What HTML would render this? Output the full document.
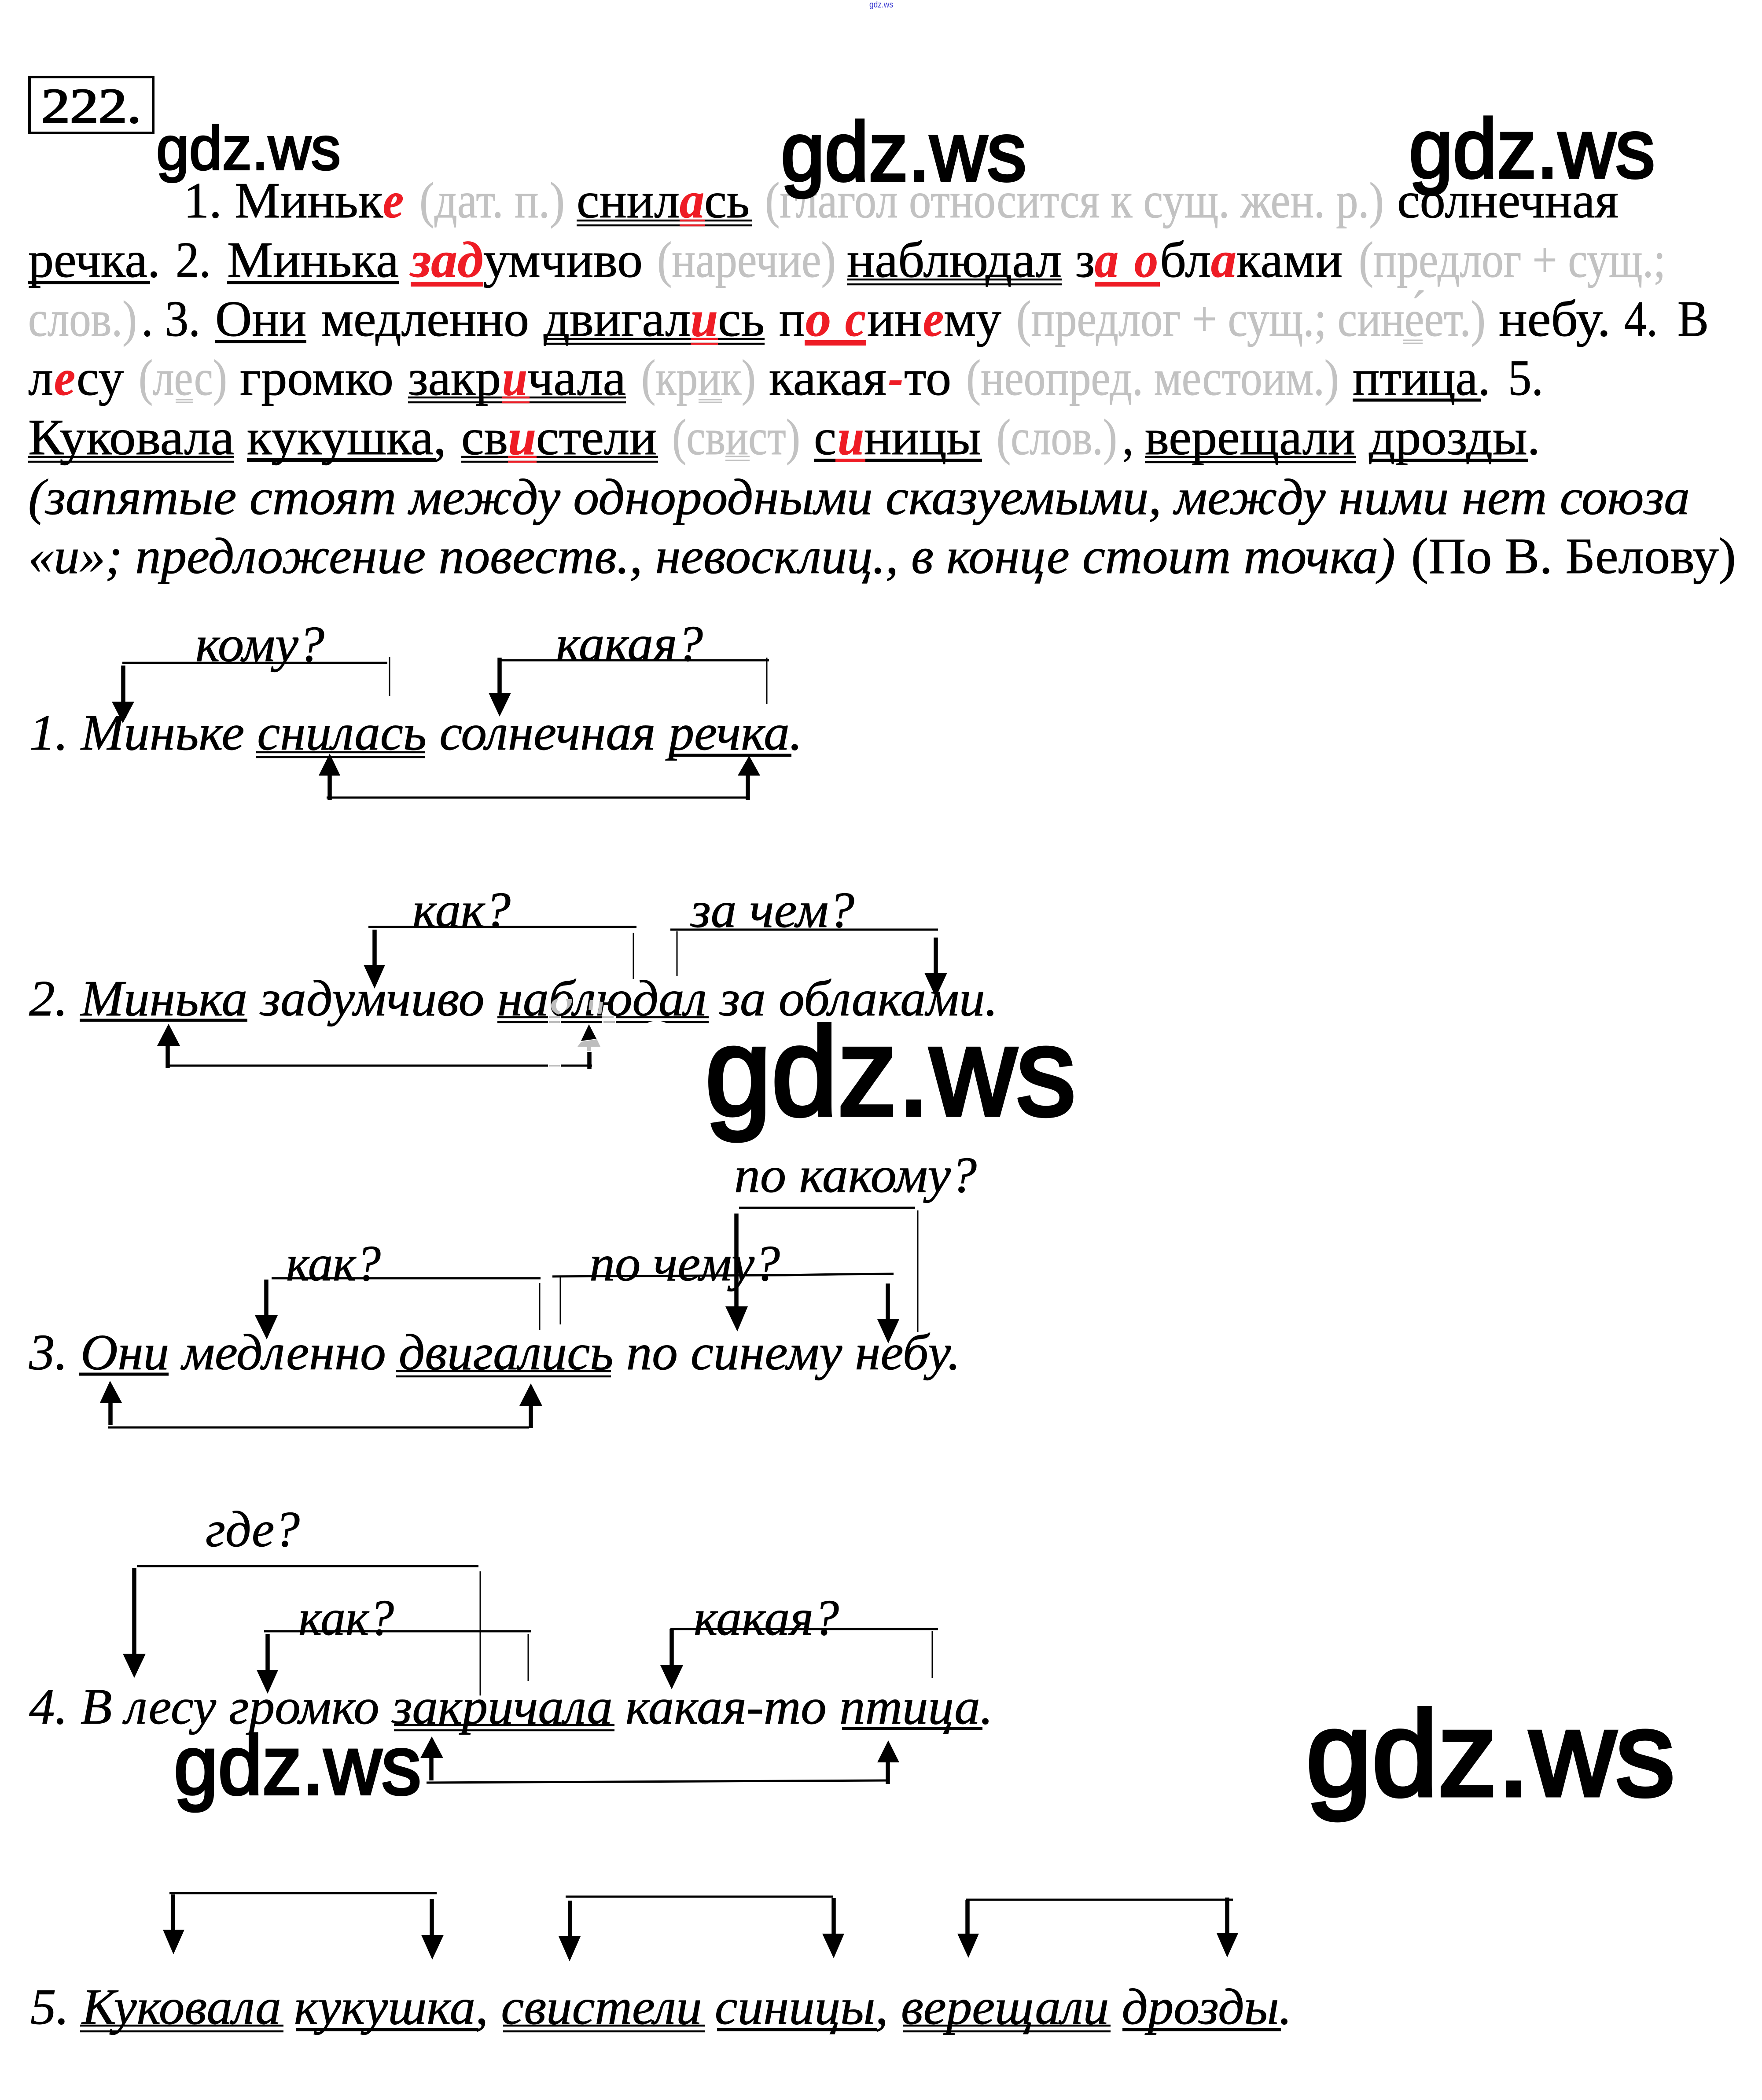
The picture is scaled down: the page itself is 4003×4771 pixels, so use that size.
<!DOCTYPE html>
<html lang="ru"><head><meta charset="utf-8"><title>222</title>
<style>
html,body{margin:0;padding:0;background:#fff}
svg{display:block}
text{font-family:"Liberation Serif",serif;font-size:116px;fill:#000;stroke:#000;stroke-width:1;white-space:pre}
.i{font-style:italic}
.g{fill:#c2c2c2;stroke:#c2c2c2}
.r{fill:#ee1c25;stroke:#ee1c25;font-style:italic;font-weight:bold}
.w{font-family:"Liberation Sans",sans-serif;stroke:#000}
.l{stroke:#000;stroke-width:5;fill:none}
.s{stroke:#000;stroke-width:9.5;fill:none}
.t{stroke:#000;stroke-width:3;fill:none}
.u{stroke:#000;stroke-width:7;fill:none}
.d{stroke:#000;stroke-width:4.5;fill:none}
.dr{stroke:#ee1c25;stroke-width:4.5;fill:none}
.gu{stroke:#c2c2c2;stroke-width:3;fill:none}
.ru{fill:#ee1c25}
</style></head><body>
<svg xmlns="http://www.w3.org/2000/svg" width="4003" height="4771" viewBox="0 0 4003 4771">
<rect width="4003" height="4771" fill="#fff"/>
<text x="1975" y="17" textLength="54" lengthAdjust="spacingAndGlyphs" style="font-family:'Liberation Sans',sans-serif;font-size:20px;fill:#3a3ad0;stroke:none">gdz.ws</text>
<rect x="67" y="175" width="281" height="127" fill="none" stroke="#000" stroke-width="6"/>
<text x="94" y="278" textLength="227" lengthAdjust="spacingAndGlyphs" style="font-size:112px;stroke-width:3">222.</text>

<!-- line 1 -->
<text x="417" y="494" textLength="453" lengthAdjust="spacingAndGlyphs">1. Миньк</text>
<text x="870" y="494" textLength="47" lengthAdjust="spacingAndGlyphs" class="r">е</text>
<text x="953" y="494" textLength="330" lengthAdjust="spacingAndGlyphs" class="g">(дат. п.)</text>
<text x="1310" y="494" textLength="234" lengthAdjust="spacingAndGlyphs">снил</text>
<text x="1544" y="494" textLength="56" lengthAdjust="spacingAndGlyphs" class="r">а</text>
<text x="1600" y="494" textLength="103" lengthAdjust="spacingAndGlyphs">сь</text>
<text x="1738" y="494" textLength="1406" lengthAdjust="spacingAndGlyphs" class="g">(глагол относится к сущ. жен. р.)</text>
<text x="3174" y="494" textLength="503" lengthAdjust="spacingAndGlyphs">солнечная</text>
<path class="d" d="M1310 501H1708M1310 512H1708"/><path class="dr" d="M1544 501H1602M1544 512H1602"/>

<!-- line 2 -->
<text x="64" y="629" textLength="300" lengthAdjust="spacingAndGlyphs">речка.</text>
<text x="399" y="629" textLength="80" lengthAdjust="spacingAndGlyphs">2.</text>
<text x="516" y="629" textLength="390" lengthAdjust="spacingAndGlyphs">Минька</text>
<text x="933" y="629" textLength="165" lengthAdjust="spacingAndGlyphs" class="r">зад</text>
<text x="1098" y="629" textLength="362" lengthAdjust="spacingAndGlyphs">умчиво</text>
<text x="1493" y="629" textLength="406" lengthAdjust="spacingAndGlyphs" class="g">(наречие)</text>
<text x="1924" y="629" textLength="488" lengthAdjust="spacingAndGlyphs">наблюдал</text>
<text x="2443" y="629" textLength="44" lengthAdjust="spacingAndGlyphs">з</text>
<text x="2487" y="629" textLength="54" lengthAdjust="spacingAndGlyphs" class="r">а</text>
<text x="2577" y="629" textLength="54" lengthAdjust="spacingAndGlyphs" class="r">о</text>
<text x="2635" y="629" textLength="116" lengthAdjust="spacingAndGlyphs">бл</text>
<text x="2751" y="629" textLength="58" lengthAdjust="spacingAndGlyphs" class="r">а</text>
<text x="2809" y="629" textLength="241" lengthAdjust="spacingAndGlyphs">ками</text>
<text x="3087" y="629" textLength="697" lengthAdjust="spacingAndGlyphs" class="g">(предлог + сущ.;</text>
<path class="u" d="M64 642H341M516 642H906"/>
<rect class="ru" x="933" y="640" width="165" height="11"/>
<path class="d" d="M1924 635H2412M1924 646H2412"/>
<rect class="ru" x="2487" y="640" width="148" height="11"/>

<!-- line 3 -->
<text x="64" y="763" textLength="247" lengthAdjust="spacingAndGlyphs" class="g">слов.)</text>
<text x="321" y="763" textLength="134" lengthAdjust="spacingAndGlyphs">. 3.</text>
<text x="489" y="763" textLength="207" lengthAdjust="spacingAndGlyphs">Они</text>
<text x="730" y="763" textLength="472" lengthAdjust="spacingAndGlyphs">медленно</text>
<text x="1235" y="763" textLength="334" lengthAdjust="spacingAndGlyphs">двигал</text>
<text x="1569" y="763" textLength="62" lengthAdjust="spacingAndGlyphs" class="r">и</text>
<text x="1631" y="763" textLength="106" lengthAdjust="spacingAndGlyphs">сь</text>
<text x="1770" y="763" textLength="58" lengthAdjust="spacingAndGlyphs">п</text>
<text x="1830" y="763" textLength="58" lengthAdjust="spacingAndGlyphs" class="r">о</text>
<text x="1920" y="763" textLength="47" lengthAdjust="spacingAndGlyphs" class="r">с</text>
<text x="1970" y="763" textLength="124" lengthAdjust="spacingAndGlyphs">ин</text>
<text x="2097" y="763" textLength="47" lengthAdjust="spacingAndGlyphs" class="r">е</text>
<text x="2144" y="763" textLength="131" lengthAdjust="spacingAndGlyphs">му</text>
<text x="2309" y="763" textLength="1066" lengthAdjust="spacingAndGlyphs" class="g">(предлог + сущ.; сине́ет.)</text>
<text x="3405" y="763" textLength="254" lengthAdjust="spacingAndGlyphs">небу.</text>
<text x="3690" y="763" textLength="76" lengthAdjust="spacingAndGlyphs">4.</text>
<text x="3811" y="763" textLength="71" lengthAdjust="spacingAndGlyphs">В</text>
<path class="u" d="M489 776H696"/>
<path class="d" d="M1235 770H1737M1235 781H1737"/><path class="dr" d="M1569 770H1631M1569 781H1631"/>
<rect class="ru" x="1828" y="773" width="140" height="12"/>
<path class="gu" d="M3187 773H3232M3187 780H3232"/>

<!-- line 4 -->
<text x="64" y="897" textLength="57" lengthAdjust="spacingAndGlyphs">л</text>
<text x="123" y="897" textLength="48" lengthAdjust="spacingAndGlyphs" class="r">е</text>
<text x="174" y="897" textLength="107" lengthAdjust="spacingAndGlyphs">су</text>
<text x="315" y="897" textLength="201" lengthAdjust="spacingAndGlyphs" class="g">(лес)</text>
<text x="545" y="897" textLength="349" lengthAdjust="spacingAndGlyphs">громко</text>
<text x="927" y="897" textLength="211" lengthAdjust="spacingAndGlyphs">закр</text>
<text x="1141" y="897" textLength="57" lengthAdjust="spacingAndGlyphs" class="r">и</text>
<text x="1198" y="897" textLength="224" lengthAdjust="spacingAndGlyphs">чала</text>
<text x="1457" y="897" textLength="260" lengthAdjust="spacingAndGlyphs" class="g">(крик)</text>
<text x="1747" y="897" textLength="267" lengthAdjust="spacingAndGlyphs">какая</text>
<text x="2018" y="897" textLength="34" lengthAdjust="spacingAndGlyphs" class="r">-</text>
<text x="2054" y="897" textLength="107" lengthAdjust="spacingAndGlyphs">то</text>
<text x="2195" y="897" textLength="847" lengthAdjust="spacingAndGlyphs" class="g">(неопред. местоим.)</text>
<text x="3073" y="897" textLength="313" lengthAdjust="spacingAndGlyphs">птица.</text>
<text x="3426" y="897" textLength="80" lengthAdjust="spacingAndGlyphs">5.</text>
<path class="d" d="M927 903H1422M927 914H1422"/><path class="dr" d="M1140 903H1203M1140 914H1203"/>
<path class="gu" d="M399 908H439M399 914H439M1587 908H1640M1587 914H1640"/>
<path class="u" d="M3073 909H3364"/>

<!-- line 5 -->
<text x="64" y="1032" textLength="468" lengthAdjust="spacingAndGlyphs">Куковала</text>
<text x="561" y="1032" textLength="453" lengthAdjust="spacingAndGlyphs">кукушка,</text>
<text x="1048" y="1032" textLength="106" lengthAdjust="spacingAndGlyphs">св</text>
<text x="1154" y="1032" textLength="64" lengthAdjust="spacingAndGlyphs" class="r">и</text>
<text x="1218" y="1032" textLength="274" lengthAdjust="spacingAndGlyphs">стели</text>
<text x="1527" y="1032" textLength="291" lengthAdjust="spacingAndGlyphs" class="g">(свист)</text>
<text x="1849" y="1032" textLength="51" lengthAdjust="spacingAndGlyphs">с</text>
<text x="1903" y="1032" textLength="60" lengthAdjust="spacingAndGlyphs" class="r">и</text>
<text x="1963" y="1032" textLength="266" lengthAdjust="spacingAndGlyphs">ницы</text>
<text x="2264" y="1032" textLength="274" lengthAdjust="spacingAndGlyphs" class="g">(слов.)</text>
<text x="2550" y="1032" textLength="25" lengthAdjust="spacingAndGlyphs">,</text>
<text x="2601" y="1032" textLength="478" lengthAdjust="spacingAndGlyphs">верещали</text>
<text x="3110" y="1032" textLength="389" lengthAdjust="spacingAndGlyphs">дрозды.</text>
<path class="d" d="M64 1038H532M64 1049H532M1048 1038H1495M1048 1049H1495M2601 1038H3081M2601 1050H3081"/>
<path class="dr" d="M1154 1038H1219M1154 1049H1219"/>
<path class="u" d="M561 1045H990M1849 1046H2231M3110 1046H3472" style="stroke-width:8"/>
<rect class="ru" x="1898" y="1042" width="68" height="8"/>
<path class="gu" d="M1648 1037H1703M1648 1046H1703"/>

<!-- italics -->
<text x="64" y="1168" textLength="3775" lengthAdjust="spacingAndGlyphs" class="i">(запятые стоят между однородными сказуемыми, между ними нет союза</text>
<text x="64" y="1302" textLength="3106" lengthAdjust="spacingAndGlyphs" class="i">«и»; предложение повеств., невосклиц., в конце стоит точка)</text>
<text x="3206" y="1302" textLength="738" lengthAdjust="spacingAndGlyphs">(По В. Белову)</text>

<!-- watermarks -->
<text x="355" y="385" textLength="419" lengthAdjust="spacingAndGlyphs" class="w" style="font-size:140px;stroke-width:4">gdz.ws</text>
<text x="1774" y="410" textLength="558" lengthAdjust="spacingAndGlyphs" class="w" style="font-size:190px;stroke-width:6">gdz.ws</text>
<text x="3201" y="403" textLength="559" lengthAdjust="spacingAndGlyphs" class="w" style="font-size:190px;stroke-width:6">gdz.ws</text>

<!-- diagram 1 -->
<text x="444" y="1502" textLength="293" lengthAdjust="spacingAndGlyphs" class="i">кому?</text>
<text x="1263" y="1501" textLength="334" lengthAdjust="spacingAndGlyphs" class="i">какая?</text>
<path class="l" d="M278 1506H880M1135 1500H1747M742 1812H1696"/>
<path class="s" d="M280 1512V1600M1135 1494V1580M749 1817V1760M1699 1818V1760"/>
<path class="t" d="M885 1492V1581M1742 1494V1600"/>
<path d="M254 1594H305L279 1643ZM1110 1574H1161L1135 1628ZM724 1762H773L749 1712ZM1676 1762H1727L1702 1717Z"/>
<text x="67" y="1703" textLength="1756" lengthAdjust="spacingAndGlyphs" class="i">1. Миньке снилась солнечная речка.</text>
<path class="d" d="M582 1709H966M582 1720H966"/><path class="u" d="M1524 1716H1798"/>

<!-- diagram 2 -->
<text x="937" y="2106" textLength="223" lengthAdjust="spacingAndGlyphs" class="i">как?</text>
<text x="1569" y="2106" textLength="372" lengthAdjust="spacingAndGlyphs" class="i">за чем?</text>
<path class="l" d="M837 2106H1446M1523 2112H2131M381 2421H1345"/>
<path class="s" d="M851 2112V2195M2126 2130V2215M381 2427V2375"/>
<path class="t" d="M1439 2119V2224M1538 2116V2218"/>
<path d="M826 2192H875L851 2246ZM2100 2210H2152L2126 2266ZM357 2376H409L383 2326Z"/>
<text x="66" y="2307" textLength="2201" lengthAdjust="spacingAndGlyphs" class="i">2. Минька задумчиво наблюдал за облаками.</text>
<path class="u" d="M181 2318H562"/><path class="d" d="M1130 2311H1610M1130 2322H1610"/>
<!-- ghost artefacts -->
<path d="M1245 2308H1275V2326H1245ZM1245 2417H1275V2426H1245ZM1367 2308H1399V2326H1367Z" fill="#fff"/>
<path d="M1247 2309H1272V2313H1247ZM1247 2320H1272V2324H1247ZM1247 2419H1272V2423H1247ZM1368 2309H1394V2313H1368ZM1371 2320H1397V2324H1371Z" fill="#bdbdbd"/>
<path d="M1263 2270C1248 2275 1246 2298 1270 2305L1272 2298C1260 2293 1262 2280 1268 2270ZM1286 2270H1300C1300 2282 1292 2292 1283 2296C1290 2288 1289 2278 1286 2270ZM1340 2272L1348 2272L1346 2295L1337 2295ZM1362 2275L1370 2277L1366 2304L1358 2303Z" fill="#bdbdbd"/>
<path d="M1467 2326Q1492 2312 1517 2326Z" fill="#fff"/>
<path d="M1338 2327L1320 2365L1355 2360Z"/>
<path d="M1320 2367L1356 2361L1364 2378L1312 2378ZM1334 2378H1343V2387H1334Z" fill="#bdbdbd"/>
<path class="s" d="M1339 2390V2428"/>
<text x="1602" y="2533" textLength="842" lengthAdjust="spacingAndGlyphs" class="w" style="font-size:285px;stroke-width:9">gdz.ws</text>

<!-- diagram 3 -->
<text x="1668" y="2708" textLength="551" lengthAdjust="spacingAndGlyphs" class="i">по какому?</text>
<text x="650" y="2909" textLength="215" lengthAdjust="spacingAndGlyphs" class="i">как?</text>
<text x="1339" y="2909" textLength="433" lengthAdjust="spacingAndGlyphs" class="i">по чему?</text>
<path class="l" d="M1679 2744H2079M617 2904H1228M1255 2900L1783 2897L1906 2895L2030 2894M245 3243H1202"/>
<path class="s" d="M1673 2757V2970M605 2907V2990M2017 2916V3000M251 3238V3185M1206 3244V3190"/>
<path class="t" d="M2085 2750V3026M1226 2915V3022M1273 2902V3009"/>
<path d="M1648 2968H1699L1675 3025ZM579 2988H631L606 3043ZM1993 2997H2043L2018 3052ZM227 3187H277L250 3137ZM1180 3194H1232L1206 3143Z"/>
<text x="66" y="3111" textLength="2116" lengthAdjust="spacingAndGlyphs" class="i">3. Они медленно двигались по синему небу.</text>
<path class="u" d="M179 3122H383"/><path class="d" d="M900 3115H1388M900 3127H1388"/>

<!-- diagram 4 -->
<text x="467" y="3513" textLength="214" lengthAdjust="spacingAndGlyphs" class="i">где?</text>
<text x="678" y="3714" textLength="217" lengthAdjust="spacingAndGlyphs" class="i">как?</text>
<text x="1576" y="3714" textLength="330" lengthAdjust="spacingAndGlyphs" class="i">какая?</text>
<path class="l" d="M311 3558H1087M600 3706H1206M1523 3701H2131M969 4050L2017 4045"/>
<path class="s" d="M305 3563V3760M608 3712V3796M1526 3701V3785M980 4045V3992M2017 4053V4002"/>
<path class="t" d="M1091 3570V3852M1200 3712V3819M2118 3706V3812"/>
<path d="M279 3757H331L305 3812ZM583 3794H632L608 3848ZM1500 3783H1552L1526 3838ZM955 3994H1007L981 3945ZM1993 4004H2043L2018 3954Z"/>
<text x="66" y="3916" textLength="2190" lengthAdjust="spacingAndGlyphs" class="i">4. В лесу громко закричала какая-то птица.</text>
<path class="d" d="M895 3919H1396M895 3931H1396"/><path class="u" d="M1913 3927H2232"/>
<text x="395" y="4076" textLength="562" lengthAdjust="spacingAndGlyphs" class="w" style="font-size:190px;stroke-width:6">gdz.ws</text>
<text x="2967" y="4079" textLength="838" lengthAdjust="spacingAndGlyphs" class="w" style="font-size:274px;stroke-width:9">gdz.ws</text>

<!-- diagram 5 -->
<path class="l" d="M385 4301H992M1285 4309H1892M2194 4316H2801"/>
<path class="s" d="M393 4304V4386M981 4315V4398M1295 4318V4400M1894 4312V4395M2198 4316V4395M2788 4311V4394"/>
<path d="M370 4384H419L394 4440ZM957 4396H1008L982 4452ZM1269 4399H1319L1294 4456ZM1868 4393H1918L1894 4449ZM2175 4393H2224L2200 4448ZM2764 4392H2813L2788 4447Z"/>
<text x="69" y="4598" textLength="2866" lengthAdjust="spacingAndGlyphs" class="i">5. Куковала кукушка, свистели синицы, верещали дрозды.</text>
<path class="d" d="M182 4602H644M182 4615H644M1143 4602H1601M1143 4615H1601M2052 4602H2523M2052 4615H2523"/>
<path class="u" style="stroke-width:8" d="M672 4611H1087M1629 4611H1993M2550 4611H2910"/>
</svg>
</body></html>
